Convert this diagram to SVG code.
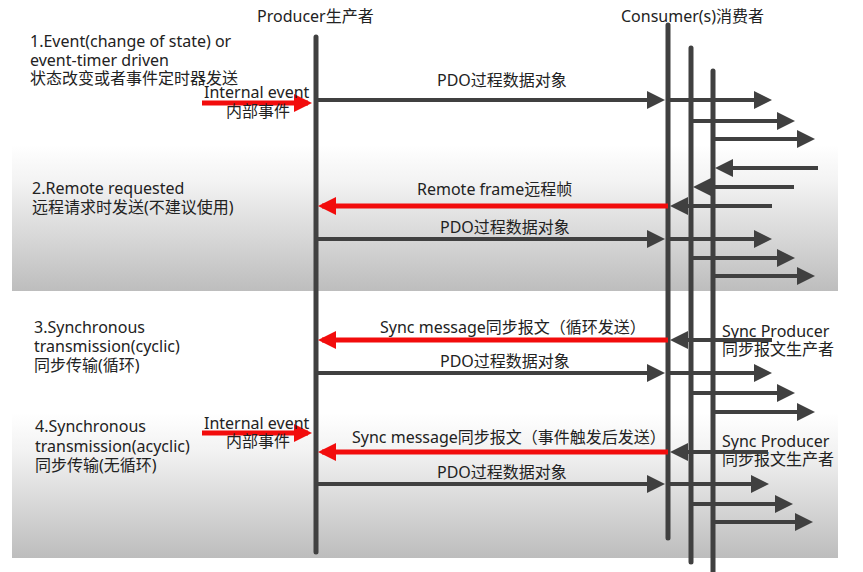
<svg xmlns="http://www.w3.org/2000/svg" width="863" height="572" viewBox="0 0 863 572">
<defs>
<linearGradient id="band" x1="0" y1="0" x2="0" y2="1">
<stop offset="0" stop-color="#ffffff"/>
<stop offset="0.25" stop-color="#f3f3f3"/>
<stop offset="1" stop-color="#bdbdbd"/>
</linearGradient>
<marker id="ag" markerUnits="userSpaceOnUse" markerWidth="18" markerHeight="18" refX="14" refY="9" orient="auto" viewBox="0 0 18 18">
<path d="M0,0 L18,9 L0,18 z" fill="#404040"/>
</marker>
<marker id="ar" markerUnits="userSpaceOnUse" markerWidth="18" markerHeight="18" refX="14" refY="9" orient="auto" viewBox="0 0 18 18">
<path d="M0,0 L18,9 L0,18 z" fill="#f20c0c"/>
</marker>
<style>
text{font-family:"Noto Sans","Noto Sans CJK SC",sans-serif;font-size:16px;fill:#222}
.life{stroke:#404040;stroke-width:5;stroke-linecap:round;fill:none}
.g{stroke:#404040;stroke-width:4;fill:none;marker-end:url(#ag)}
.r{stroke:#f20c0c;stroke-width:5;fill:none;marker-end:url(#ar)}
</style>
</defs>
<rect width="863" height="572" fill="#ffffff"/>
<rect x="12" y="145" width="826" height="146" fill="url(#band)"/>
<rect x="12" y="413" width="826" height="145" fill="url(#band)"/>

<g id="mode1-label">
<text x="30" y="47">1.Event(change of state) or</text>
<text x="30" y="66">event-timer driven</text>
<text x="30" y="84">状态改变或者事件定时器发送</text>
</g>
<g id="mode2-label">
<text x="32" y="194">2.Remote requested</text>
<text x="32" y="213">远程请求时发送(不建议使用)</text>
</g>
<g id="mode3-label">
<text x="34" y="333">3.Synchronous</text>
<text x="34" y="352">transmission(cyclic)</text>
<text x="34" y="371">同步传输(循环)</text>
</g>
<g id="mode4-label">
<text x="35" y="432">4.Synchronous</text>
<text x="35" y="452">transmission(acyclic)</text>
<text x="35" y="471">同步传输(无循环)</text>
</g>

<g id="producer">
<text x="257" y="22">Producer生产者</text>
<line class="life" x1="316" y1="37" x2="316" y2="552"/>
</g>
<g id="consumers">
<text x="621" y="22">Consumer(s)消费者</text>
<line class="life" x1="668" y1="25" x2="668" y2="538"/>
<line class="life" x1="691" y1="48" x2="691" y2="562"/>
<line class="life" x1="713" y1="71" x2="713" y2="575"/>
</g>
<g id="sync-producer-1">
<text x="722" y="337">Sync Producer</text>
<text x="722" y="355">同步报文生产者</text>
</g>
<g id="sync-producer-2">
<text x="722" y="447">Sync Producer</text>
<text x="722" y="465">同步报文生产者</text>
</g>

<g id="connectors">
<!-- row 1 -->
<line class="r" x1="202" y1="103" x2="308" y2="103"/>
<line class="g" x1="318" y1="100" x2="661" y2="100"/>
<line class="g" x1="668" y1="100" x2="768" y2="100"/>
<line class="g" x1="691" y1="121" x2="791" y2="121"/>
<line class="g" x1="713" y1="139" x2="811" y2="139"/>
<!-- row 2 -->
<line class="g" x1="818" y1="168" x2="719" y2="168"/>
<line class="g" x1="794" y1="187" x2="697" y2="187"/>
<line class="g" x1="772" y1="206" x2="674" y2="206"/>
<line class="r" x1="668" y1="206" x2="322" y2="206"/>
<line class="g" x1="318" y1="239" x2="661" y2="239"/>
<line class="g" x1="668" y1="239" x2="768" y2="239"/>
<line class="g" x1="691" y1="258" x2="791" y2="258"/>
<line class="g" x1="713" y1="276" x2="811" y2="276"/>
<!-- row 3 -->
<line class="g" x1="772" y1="340" x2="674" y2="340"/>
<line class="r" x1="668" y1="340" x2="322" y2="340"/>
<line class="g" x1="318" y1="373" x2="661" y2="373"/>
<line class="g" x1="668" y1="373" x2="768" y2="373"/>
<line class="g" x1="691" y1="393" x2="791" y2="393"/>
<line class="g" x1="713" y1="412" x2="811" y2="412"/>
<!-- row 4 -->
<line class="r" x1="202" y1="433" x2="308" y2="433"/>
<line class="g" x1="768" y1="452" x2="674" y2="452"/>
<line class="r" x1="668" y1="452" x2="322" y2="452"/>
<line class="g" x1="318" y1="484" x2="661" y2="484"/>
<line class="g" x1="668" y1="484" x2="765" y2="484"/>
<line class="g" x1="691" y1="504" x2="789" y2="504"/>
<line class="g" x1="713" y1="522" x2="809" y2="522"/>
</g>

<g id="labels">
<text x="204" y="98">Internal event</text>
<text x="258" y="117" text-anchor="middle">内部事件</text>
<text x="437" y="86">PDO过程数据对象</text>
<text x="417" y="195">Remote frame远程帧</text>
<text x="440" y="233">PDO过程数据对象</text>
<text x="380" y="333">Sync message同步报文（循环发送）</text>
<text x="440" y="367">PDO过程数据对象</text>
<text x="204" y="429">Internal event</text>
<text x="258" y="447" text-anchor="middle">内部事件</text>
<text x="352" y="443">Sync message同步报文（事件触发后发送）</text>
<text x="437" y="478">PDO过程数据对象</text>
</g>
</svg>
